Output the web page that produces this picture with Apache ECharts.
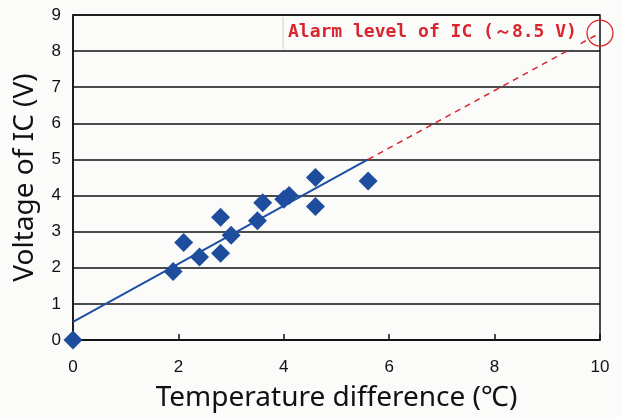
<!DOCTYPE html>
<html>
<head>
<meta charset="utf-8">
<script src="https://cdn.jsdelivr.net/npm/echarts@6/dist/echarts.min.js"></script>
<style>
  html, body { margin: 0; padding: 0; background: #fbfbf9; }
  #chart { width: 622px; height: 417px; }
</style>
</head>
<body>
<div id="chart"></div>
<script>
  // measured points (temperature difference, voltage)
  const tempDiff = [0, 1.9, 2.1, 2.4, 2.8, 2.8, 3.0, 3.5, 3.6, 4.0, 4.1, 4.6, 4.6, 5.6];
  const voltage  = [0, 1.9, 2.7, 2.3, 2.4, 3.4, 2.9, 3.3, 3.8, 3.9, 4.0, 4.5, 3.7, 4.4];

  // fitted line and its extrapolation up to the alarm level
  const fitX = [0, 5.6];
  const fitY = [0.5, 5.0];
  const extX = [5.6, 10];
  const extY = [5.0, 8.5];
  const alarmPoint = [10, 8.5];

  const xTicks = [0, 2, 4, 6, 8, 10];
  const yTicks = [0, 1, 2, 3, 4, 5, 6, 7, 8, 9];

  const tickFont = '"Liberation Sans", sans-serif';

  const chart = echarts.init(document.getElementById('chart'));

  const zip = (xs, ys) => xs.map((x, i) => [x, ys[i]]);

  const option = {
    backgroundColor: '#fbfbf9',
    animation: false,
    grid: {
      left: 73, right: 22, top: 15, bottom: 75,
      show: true, borderColor: '#111', borderWidth: 1.5
    },
    xAxis: {
      type: 'value',
      min: xTicks[0], max: xTicks[xTicks.length - 1], interval: 2,
      name: 'Temperature difference (℃)',
      nameLocation: 'middle', nameGap: 44,
      nameTextStyle: { fontFamily: 'Noto Sans', fontSize: 28, color: '#111' },
      axisLine: { lineStyle: { color: '#111', width: 1.5 } },
      axisTick: { inside: true, length: 6, lineStyle: { color: '#111', width: 1.5 } },
      axisLabel: { fontFamily: tickFont, fontSize: 17, color: '#111', margin: 19 },
      splitLine: { show: false }
    },
    yAxis: {
      type: 'value',
      min: yTicks[0], max: yTicks[yTicks.length - 1], interval: 1,
      name: 'Voltage of IC (V)',
      nameLocation: 'middle', nameGap: 34,
      nameTextStyle: { fontFamily: 'Noto Sans', fontSize: 28, color: '#111' },
      axisLine: { lineStyle: { color: '#111', width: 1.5 } },
      axisTick: { show: false },
      axisLabel: { fontFamily: tickFont, fontSize: 17, color: '#111', margin: 12 },
      splitLine: { lineStyle: { color: '#111', width: 1.5 } }
    },
    series: [
      {
        type: 'line',
        data: zip(fitX, fitY),
        symbol: 'none',
        lineStyle: { color: '#1f4ea6', width: 2 },
        z: 3
      },
      {
        type: 'line',
        data: zip(extX, extY),
        symbol: 'none',
        lineStyle: { color: '#d9252f', width: 1.5, type: [6, 5] },
        z: 3
      },
      {
        type: 'scatter',
        data: zip(tempDiff, voltage),
        symbol: 'diamond',
        symbolSize: 19,
        itemStyle: { color: '#1f4d9e', opacity: 1 },
        clip: false,
        z: 4
      },
      {
        type: 'scatter',
        data: [alarmPoint],
        symbol: 'circle',
        symbolSize: 26,
        itemStyle: { color: 'transparent', borderColor: '#d9252f', borderWidth: 1.3, opacity: 1 },
        clip: false,
        z: 15
      }
    ],
    graphic: [
      {
        type: 'rect',
        shape: { x: 283, y: 17, width: 297, height: 32 },
        style: { fill: '#fbfbf9', stroke: null },
        z: 10
      },
      {
        type: 'line',
        shape: { x1: 283, y1: 17, x2: 283, y2: 49 },
        style: { stroke: '#cfcfcf', lineWidth: 1 },
        z: 11
      },
      {
        type: 'text',
        left: 288, top: 23,
        style: {
          text: 'Alarm level of IC (～8.5 V)',
          fill: '#d9252f',
          font: 'bold 18px "DejaVu Sans Mono", "Liberation Mono", monospace'
        },
        z: 12
      }
    ]
  };

  chart.setOption(option);
</script>
</body>
</html>
